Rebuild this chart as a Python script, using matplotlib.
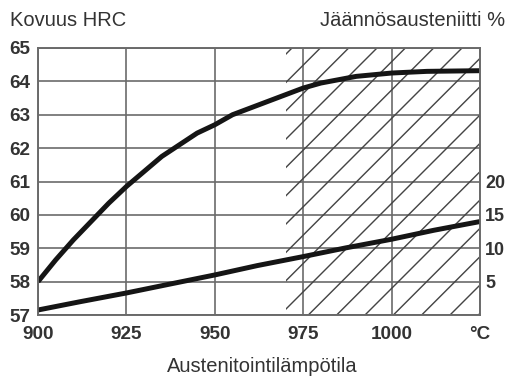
import numpy as np
import matplotlib.pyplot as plt

# lämpötila (°C) ja kovuus (HRC)
lampo = [900, 905, 910, 915, 920, 925, 930, 935, 940, 945, 950, 955, 960,
         965, 970, 975, 980, 985, 990, 995, 1000, 1010, 1025]
kovuus = [58.0, 58.65, 59.25, 59.8, 60.35, 60.85, 61.3, 61.75, 62.1, 62.45,
          62.7, 63.0, 63.2, 63.4, 63.6, 63.8, 63.95, 64.05, 64.15, 64.2,
          64.25, 64.3, 64.32]

# jäännösausteniitti (%)
lampo_ja = [900, 912, 925, 937, 950, 962, 975, 987, 1000, 1012, 1025]
jaannos = [0.75, 2.0, 3.3, 4.6, 6.0, 7.4, 8.75, 10.05, 11.35, 12.7, 14.0]

xtikit = [900, 925, 950, 975, 1000, 1025]
xnimet = ['900', '925', '950', '975', '1000', '°C']
ytikit = [57, 58, 59, 60, 61, 62, 63, 64, 65]
ytikit2 = [5, 10, 15, 20]

DPI = 170
plt.rcParams['hatch.linewidth'] = 0.6
plt.rcParams['hatch.color'] = '#444444'

fig = plt.figure(figsize=(507 / DPI, 379 / DPI), dpi=DPI)
ax = fig.add_axes([38 / 507, 1 - 315 / 379, 442 / 507, 267 / 379])
ax2 = ax.twinx()

harmaa = '#6a6a6a'
tfont = dict(family=['Liberation Sans', 'DejaVu Sans'], weight='bold', size=8)

ax.axvspan(970, 1025, facecolor='none', edgecolor='#444444', hatch='//', linewidth=0)
ax.plot(lampo, kovuus, color='#151515', lw=2.1, solid_capstyle='butt')
ax2.plot(lampo_ja, jaannos, color='#151515', lw=2.1, solid_capstyle='butt')

ax.set_xlim(900, 1025)
ax.set_ylim(57, 65)
ax2.set_ylim(0, 40)
ax.set_xticks(xtikit)
ax.set_xticklabels(xnimet, fontdict=tfont, color='#333333')
ax.set_yticks(ytikit)
ax.set_yticklabels([str(v) for v in ytikit], fontdict=tfont, color='#333333')
ax2.set_yticks(ytikit2)
ax2.set_yticklabels([str(v) for v in ytikit2], fontdict=dict(tfont, size=7.6),
                    color='#333333')

ax.grid(True, color=harmaa, lw=0.7)
ax.set_axisbelow(True)
ax.tick_params(axis='both', length=0)
ax.tick_params(axis='y', pad=3.2)
ax.tick_params(axis='x', pad=4.5)
ax2.tick_params(axis='y', length=0, pad=2.2)
for a in (ax, ax2):
    for s in a.spines.values():
        s.set_color(harmaa)
        s.set_linewidth(0.7)

otsikko = dict(family=['Liberation Sans', 'DejaVu Sans'], size=8.5, color='#333333')
fig.text(10 / 507, 1 - 20 / 379, 'Kovuus HRC', ha='left', va='center', **otsikko)
fig.text(505 / 507, 1 - 21 / 379, 'Jäännösausteniitti %', ha='right', va='center', **otsikko)
fig.text(262 / 507, 1 - 366 / 379, 'Austenitointilämpötila', ha='center', va='center', **otsikko)

fig.savefig('out.png', dpi=DPI)
